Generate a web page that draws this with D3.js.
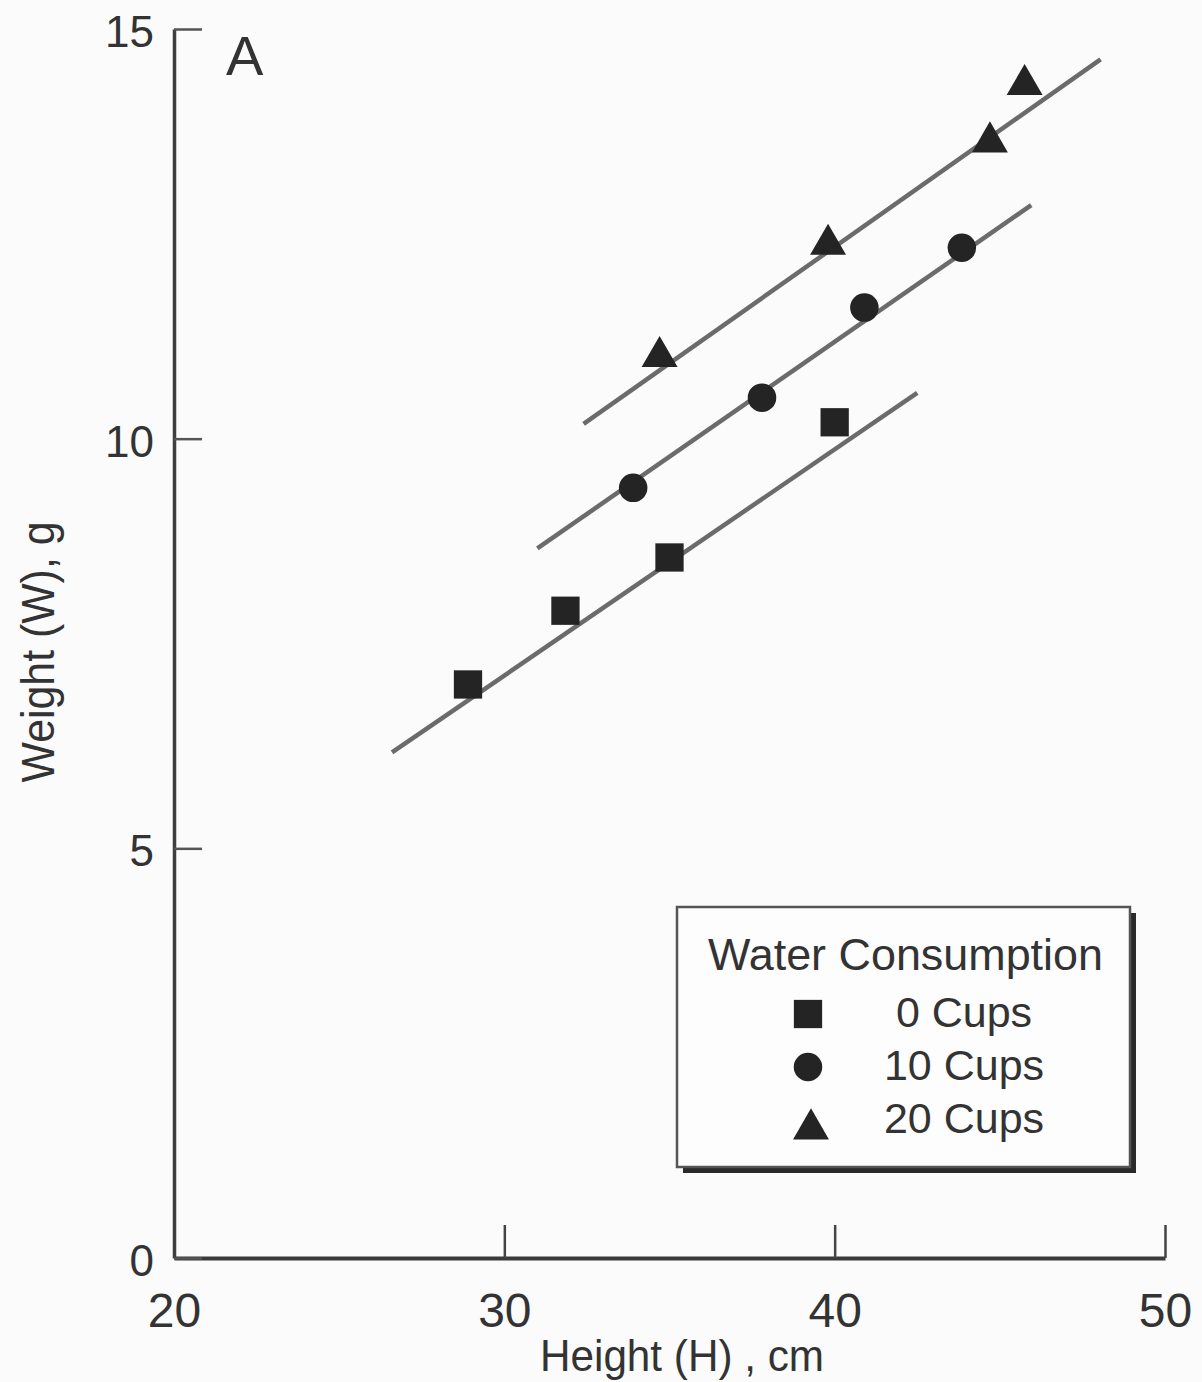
<!DOCTYPE html>
<html>
<head>
<meta charset="utf-8">
<script src="https://cdn.jsdelivr.net/npm/d3@7"></script>
<style>
    body { margin: 0; background: #fbfbfb; }
    svg { display: block; font-family: "Liberation Sans", Arial, sans-serif; }
    .axis text { fill: #333; }
</style>
</head>
<body>
<div id="chart"></div>
<script>
// series: water consumption groups
var groups = ['0 Cups', '10 Cups', '20 Cups'];
var symbols = [d3.symbolSquare, d3.symbolCircle, d3.symbolTriangle];

// height (cm) and weight (g) per group
var heights0 = [28.9, 31.85, 35.0, 40.0];
var weights0 = [7.0, 7.9, 8.55, 10.2];
var heights10 = [33.9, 37.8, 40.9, 43.85];
var weights10 = [9.4, 10.5, 11.6, 12.33];
var heights20 = [34.7, 39.8, 44.7, 45.75];
var weights20 = [11.0, 12.37, 13.62, 14.32];

// fitted straight lines, one per group (start / end in data units)
var lineH0 = [26.6, 31.0, 32.4];
var lineW0 = [6.17, 8.66, 10.18];
var lineH1 = [42.5, 45.95, 48.05];
var lineW1 = [10.56, 12.85, 14.63];

var xTicks = [20, 30, 40, 50];
var yTicks = [0, 5, 10, 15];

var width = 1202, height = 1382;
var svg = d3.select('#chart').append('svg')
    .attr('width', width).attr('height', height);

var x = d3.scaleLinear().domain([20, 50]).range([174, 1165]);
var y = d3.scaleLinear().domain([0, 15]).range([1258, 29]);

// axes, ticks pointing inward
var xAxis = svg.append('g').attr('class', 'axis')
    .attr('transform', 'translate(0,' + y(0) + ')')
    .call(d3.axisBottom(x).tickValues(xTicks).tickSizeInner(-33).tickSizeOuter(0).tickPadding(34));
xAxis.select('.domain').attr('stroke', '#3a3a3a').attr('stroke-width', 4);
xAxis.selectAll('.tick line').attr('stroke', '#444').attr('stroke-width', 2.5);
xAxis.selectAll('.tick text').attr('font-size', 48).attr('dy', '0.72em');

var yAxis = svg.append('g').attr('class', 'axis')
    .attr('transform', 'translate(' + x(20) + ',0)')
    .call(d3.axisLeft(y).tickValues(yTicks).tickSizeInner(-28).tickSizeOuter(0).tickPadding(20));
yAxis.select('.domain').attr('stroke', '#3f3f3f').attr('stroke-width', 3.5);
yAxis.selectAll('.tick line').attr('stroke', '#555').attr('stroke-width', 2.5);
yAxis.selectAll('.tick text').attr('font-size', 44).attr('dy', '0.4em');

// axis titles
svg.append('text')
    .attr('x', 682).attr('y', 1371)
    .attr('text-anchor', 'middle').attr('font-size', 44).attr('fill', '#333')
    .attr('textLength', 284).attr('lengthAdjust', 'spacingAndGlyphs')
    .text('Height (H) , cm');
svg.append('text')
    .attr('transform', 'translate(54,652) rotate(-90)')
    .attr('text-anchor', 'middle').attr('font-size', 46).attr('fill', '#333')
    .attr('textLength', 261).attr('lengthAdjust', 'spacingAndGlyphs')
    .text('Weight (W), g');
svg.append('text')
    .attr('x', 226).attr('y', 75)
    .attr('font-size', 56).attr('fill', '#333')
    .text('A');

// fitted lines
var plot = svg.append('g');
plot.selectAll('.fit').data(groups).enter().append('line')
    .attr('class', 'fit')
    .attr('x1', function(d, i) { return x(lineH0[i]); })
    .attr('y1', function(d, i) { return y(lineW0[i]); })
    .attr('x2', function(d, i) { return x(lineH1[i]); })
    .attr('y2', function(d, i) { return y(lineW1[i]); })
    .attr('stroke', '#6b6b6b').attr('stroke-width', 4.5);

// points
var series = [
    { h: heights0, w: weights0, size: 800 },
    { h: heights10, w: weights10, size: 640 },
    { h: heights20, w: weights20, size: 560 }
];
series.forEach(function(s, i) {
    var pts = s.h.map(function(h, j) { return [h, s.w[j]]; });
    plot.selectAll('.pt' + i).data(pts).enter().append('path')
        .attr('class', 'pt' + i)
        .attr('transform', function(d) { return 'translate(' + x(d[0]) + ',' + y(d[1]) + ')'; })
        .attr('d', d3.symbol().type(symbols[i]).size(s.size))
        .attr('fill', '#242424');
});

// legend box with drop shadow
var legend = svg.append('g').attr('transform', 'translate(677,907)');
legend.append('rect').attr('x', 6).attr('y', 6).attr('width', 453).attr('height', 260).attr('fill', '#2a2a2a');
legend.append('rect').attr('width', 453).attr('height', 260)
    .attr('fill', '#fdfdfd').attr('stroke', '#555').attr('stroke-width', 2.5);
legend.append('text')
    .attr('x', 31).attr('y', 63)
    .attr('font-size', 44).attr('fill', '#333')
    .attr('textLength', 395).attr('lengthAdjust', 'spacingAndGlyphs')
    .text('Water Consumption');
var rows = legend.selectAll('.row').data(groups).enter().append('g')
    .attr('class', 'row')
    .attr('transform', function(d, i) { return 'translate(0,' + (120 + i * 53) + ')'; });
rows.append('path')
    .attr('transform', function(d, i) { return 'translate(' + (i == 2 ? 134 : 131) + ',' + (i == 2 ? -4 : -13) + ')'; })
    .attr('d', function(d, i) { return d3.symbol().type(symbols[i]).size(series[i].size)(); })
    .attr('fill', '#242424');
rows.append('text')
    .attr('x', 287).attr('y', 0)
    .attr('text-anchor', 'middle').attr('font-size', 43).attr('fill', '#333')
    .text(function(d) { return d; });
</script>
</body>
</html>
